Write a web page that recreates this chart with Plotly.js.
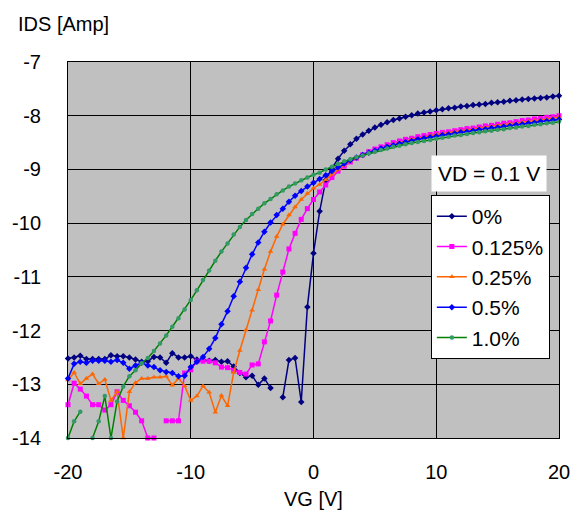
<!DOCTYPE html>
<html>
<head>
<meta charset="utf-8">
<script src="https://cdn.plot.ly/plotly-3.0.1.min.js"></script>
<style>html,body{margin:0;padding:0;background:#fff}#chart{width:581px;height:514px}</style>
</head>
<body>
<div id="chart"></div>
<script>
const VG = [-20,-19.5,-19,-18.5,-18,-17.5,-17,-16.5,-16,-15.5,-15,-14.5,-14,-13.5,-13,-12.5,-12,-11.5,-11,-10.5,
  -10,-9.5,-9,-8.5,-8,-7.5,-7,-6.5,-6,-5.5,-5,-4.5,-4,-3.5,-3,-2.5,-2,-1.5,-1,-0.5,
  0,0.5,1,1.5,2,2.5,3,3.5,4,4.5,5,5.5,6,6.5,7,7.5,8,8.5,9,9.5,
  10,10.5,11,11.5,12,12.5,13,13.5,14,14.5,15,15.5,16,16.5,17,17.5,18,18.5,19,19.5,20];

const seriesNames = ["0%", "0.125%", "0.25%", "0.5%", "1.0%"];

const ids_0 = [-12.52,-12.50,-12.47,-12.53,-12.53,-12.53,-12.53,-12.46,-12.48,-12.48,-12.50,-12.54,-12.58,-12.57,-12.49,-12.50,-12.60,-12.42,-12.50,-12.50,
  -12.48,-12.54,-12.55,-12.56,-12.55,-12.58,-12.57,-12.67,-12.79,-12.87,-12.84,-13.01,-12.89,-13.07,null,-13.24,-12.55,-12.51,-13.33,-11.56,
  -10.56,-9.78,-9.20,-8.98,-8.80,-8.65,-8.53,-8.43,-8.35,-8.28,-8.22,-8.17,-8.12,-8.08,-8.05,-8.02,-7.99,-7.96,-7.94,-7.92,
  -7.90,-7.88,-7.86,-7.85,-7.83,-7.82,-7.80,-7.79,-7.78,-7.76,-7.75,-7.74,-7.72,-7.71,-7.70,-7.69,-7.68,-7.67,-7.66,-7.64,-7.63];

const ids_0125 = [-13.38,-12.98,-13.09,-13.22,-13.38,-13.38,-13.48,-13.38,-13.14,-13.30,-13.40,-13.52,-13.68,-14.0,-14.0,null,-13.68,-13.68,-13.68,-12.79,
  -12.73,-12.57,-12.57,-12.57,-12.60,-12.68,-12.69,-12.74,-12.78,-12.81,-12.64,-12.62,-12.21,-11.82,-11.34,-10.91,-10.48,-10.19,-9.93,-9.73,
  -9.56,-9.42,-9.29,-9.15,-9.03,-8.94,-8.86,-8.79,-8.73,-8.67,-8.62,-8.58,-8.54,-8.50,-8.47,-8.44,-8.42,-8.39,-8.37,-8.35,
  -8.33,-8.31,-8.30,-8.28,-8.26,-8.24,-8.23,-8.21,-8.19,-8.18,-8.16,-8.14,-8.13,-8.11,-8.09,-8.08,-8.06,-8.05,-8.03,-8.02,-8.00];

const ids_025 = [-12.92,-12.78,-12.99,-12.89,-12.81,-12.99,-12.91,-13.30,-13.14,-14.0,-13.14,-12.97,-12.89,-12.89,-12.87,-12.87,-12.85,-13.02,-12.89,-13.03,
  -13.30,-13.22,-13.03,-13.15,-13.52,-13.21,-13.40,-12.78,-12.37,-11.99,-11.62,-11.24,-10.86,-10.53,-10.25,-10.02,-9.85,-9.70,-9.56,-9.45,
  -9.35,-9.28,-9.19,-9.09,-9.00,-8.92,-8.85,-8.79,-8.73,-8.68,-8.64,-8.60,-8.56,-8.53,-8.50,-8.47,-8.44,-8.42,-8.40,-8.37,
  -8.35,-8.33,-8.32,-8.30,-8.28,-8.27,-8.25,-8.23,-8.22,-8.20,-8.18,-8.17,-8.15,-8.14,-8.12,-8.11,-8.09,-8.08,-8.06,-8.05,-8.03];

const ids_05 = [-12.89,-12.62,-12.58,-12.60,-12.56,-12.56,-12.56,-12.58,-12.55,-12.60,-12.71,-12.65,-12.60,-12.65,-12.68,-12.74,-12.77,-12.79,-12.85,-12.84,
  -12.68,-12.58,-12.49,-12.34,-12.14,-11.88,-11.64,-11.36,-11.09,-10.83,-10.58,-10.36,-10.16,-9.99,-9.85,-9.73,-9.60,-9.49,-9.40,-9.32,
  -9.25,-9.18,-9.11,-9.03,-8.96,-8.89,-8.83,-8.78,-8.73,-8.69,-8.65,-8.61,-8.58,-8.55,-8.52,-8.49,-8.47,-8.44,-8.42,-8.40,
  -8.38,-8.36,-8.35,-8.33,-8.31,-8.30,-8.28,-8.26,-8.25,-8.23,-8.22,-8.20,-8.19,-8.17,-8.16,-8.14,-8.13,-8.11,-8.10,-8.08,-8.07];

const ids_10 = [-14.0,-13.69,-13.51,null,-14.0,-13.69,-13.22,-14.0,-13.32,-13.04,-12.85,-12.74,-12.61,-12.51,-12.38,-12.24,-12.09,-11.93,-11.77,-11.61,
  -11.43,-11.25,-11.06,-10.88,-10.70,-10.53,-10.38,-10.21,-10.07,-9.94,-9.83,-9.73,-9.63,-9.55,-9.46,-9.39,-9.32,-9.26,-9.20,-9.15,
  -9.10,-9.06,-9.00,-8.95,-8.90,-8.85,-8.81,-8.77,-8.74,-8.70,-8.67,-8.64,-8.61,-8.58,-8.56,-8.53,-8.51,-8.49,-8.47,-8.45,
  -8.43,-8.41,-8.39,-8.37,-8.36,-8.34,-8.32,-8.31,-8.29,-8.28,-8.26,-8.25,-8.23,-8.22,-8.20,-8.19,-8.17,-8.16,-8.14,-8.13,-8.11];

const xTickVals = [-20, -10, 0, 10, 20];
const yTickVals = [-14, -13, -12, -11, -10, -9, -8, -7];

const FONT = "'Liberation Sans', Arial, sans-serif";

function mk(y, name, lineColor, markerColor, symbol, size) {
  return {
    x: VG, y: y, name: name, type: 'scatter', mode: 'lines+markers',
    line: {color: lineColor, width: 1.5},
    marker: {color: markerColor, symbol: symbol, size: size, line: {width: 0}},
    cliponaxis: false, connectgaps: false
  };
}

const data = [
  mk(ids_0, seriesNames[0], '#000080', '#000080', 'diamond', 5),
  mk(ids_0125, seriesNames[1], '#FF00FF', '#FF00FF', 'square', 5),
  mk(ids_025, seriesNames[2], '#FF6600', '#FF6600', 'triangle-up', 5),
  mk(ids_05, seriesNames[3], '#0000FF', '#0000FF', 'diamond', 5),
  mk(ids_10, seriesNames[4], '#008000', '#339966', 'circle', 4.5)
];

const layout = {
  width: 581, height: 514,
  margin: {l: 68, r: 22, t: 62, b: 76},
  paper_bgcolor: '#ffffff',
  plot_bgcolor: '#C0C0C0',
  font: {family: FONT, size: 20, color: '#000'},
  showlegend: true,
  xaxis: {
    range: [-20, 20], tickvals: xTickVals, ticktext: xTickVals.map(String),
    showgrid: true, gridcolor: '#000', gridwidth: 1, zeroline: false,
    showline: true, mirror: true, linecolor: '#000', linewidth: 1,
    ticks: '', ticklabelstandoff: 16, tickfont: {size: 20, family: FONT},
    fixedrange: true
  },
  yaxis: {
    range: [-14, -7], tickvals: yTickVals, ticktext: yTickVals.map(String),
    showgrid: true, gridcolor: '#000', gridwidth: 1, zeroline: false,
    showline: true, mirror: true, linecolor: '#000', linewidth: 1,
    ticks: '', ticklabelstandoff: 22, tickfont: {size: 20, family: FONT},
    fixedrange: true
  },
  legend: {
    x: 0.739, y: 0.646, xanchor: 'left', yanchor: 'top',
    bgcolor: '#ffffff', bordercolor: '#000', borderwidth: 1,
    font: {size: 21, family: FONT}, itemwidth: 30, entrywidth: 122
  },
  annotations: [
    {text: 'IDS [Amp]', xref: 'paper', yref: 'paper', x: -0.106, y: 1.1,
     xanchor: 'left', yanchor: 'middle', showarrow: false, font: {size: 20, family: FONT}},
    {text: 'VG [V]', xref: 'paper', yref: 'paper', x: 0.5, y: -0.162,
     xanchor: 'center', yanchor: 'middle', showarrow: false, font: {size: 20, family: FONT}},
    {text: 'VD = 0.1 V', xref: 'paper', yref: 'paper', x: 0.739, y: 0.753,
     xanchor: 'left', yanchor: 'top', showarrow: false, bgcolor: '#ffffff',
     borderpad: 6, font: {size: 21, family: FONT}}
  ]
};

Plotly.newPlot('chart', data, layout, {staticPlot: true, displayModeBar: false});
</script>
</body>
</html>
